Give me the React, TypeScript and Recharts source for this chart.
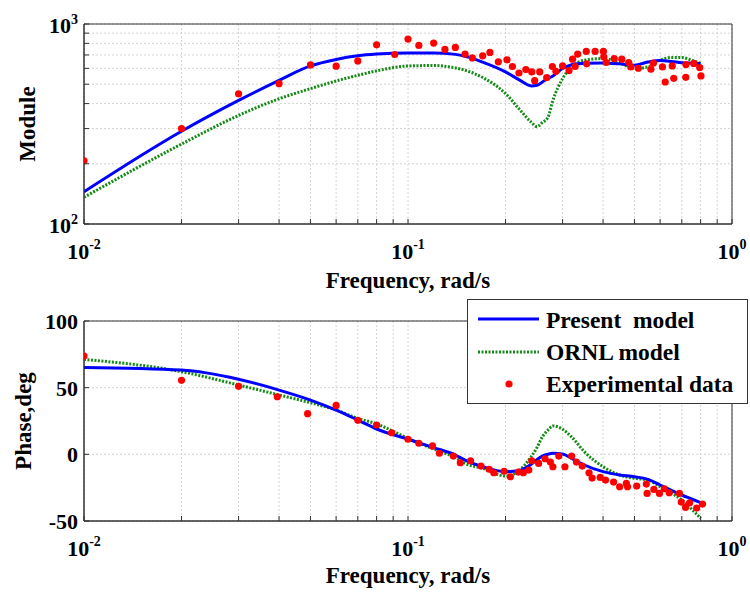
import React from 'react';
import { ComposedChart, Line, Scatter, XAxis, YAxis, CartesianGrid, ReferenceArea } from 'recharts';

// model curves sampled at these frequencies (rad/s)
const FREQ = [0.01, 0.02, 0.03, 0.04, 0.05, 0.06, 0.07, 0.08, 0.1, 0.12, 0.14, 0.15, 0.17, 0.2, 0.22, 0.24, 0.25, 0.26, 0.27, 0.28, 0.3, 0.32, 0.35, 0.4, 0.45, 0.5, 0.55, 0.6, 0.65, 0.7, 0.75, 0.8];
const PRESENT_MOD = [145, 291, 415, 523, 617, 665, 693, 707, 717, 717, 705, 690, 645, 576, 527, 490, 494, 513, 533, 550, 599, 625, 637, 639, 632, 622, 645, 657, 650, 640, 637, 635];
const ORNL_MOD = [136, 251, 349, 423, 475, 519, 554, 583, 617, 620, 603, 587, 540, 449, 377, 323, 307, 322, 340, 415, 533, 610, 659, 672, 639, 599, 610, 659, 680, 680, 659, 635];
const PRESENT_PHASE = [65.2, 63.2, 56.3, 48.2, 40.7, 33.2, 25.7, 19.0, 11.3, 5.0, -0.5, -4.3, -9.3, -13, -12.3, -7.5, -4, -1.3, 0, 0.8, 0.3, -3, -8, -13, -15.5, -16.8, -18.8, -23, -27, -30.5, -33.5, -36.3];
const ORNL_PHASE = [71.2, 62, 52, 44.5, 38.7, 33.2, 27, 22.8, 12, 4, -2.5, -6.8, -10.5, -16.3, -12.3, -1.8, 5, 13.2, 18, 21.3, 18.8, 13, 2, -9.3, -15.5, -18, -19.3, -24.3, -29, -34.3, -41, -48];

// experimental points
const EXP_MOD_F = [0.01, 0.02, 0.03, 0.04, 0.05, 0.06, 0.07, 0.08, 0.091, 0.1, 0.108, 0.12, 0.13, 0.14, 0.15, 0.158, 0.17, 0.179, 0.19, 0.202, 0.21, 0.22, 0.231, 0.241, 0.246, 0.255, 0.268, 0.279, 0.286, 0.3, 0.314, 0.322, 0.328, 0.334, 0.355, 0.356, 0.378, 0.401, 0.402, 0.409, 0.433, 0.457, 0.48, 0.487, 0.514, 0.562, 0.572, 0.61, 0.622, 0.654, 0.661, 0.72, 0.721, 0.762, 0.795, 0.802];
const EXP_MOD = [207, 300, 448, 503, 624, 615, 654, 787, 704, 841, 781, 803, 746, 764, 707, 677, 693, 721, 647, 662, 613, 569, 592, 576, 521, 576, 540, 613, 580, 617, 585, 667, 613, 707, 729, 632, 729, 729, 685, 642, 672, 667, 642, 610, 601, 594, 637, 610, 513, 617, 535, 541, 627, 635, 606, 550];
const EXP_PHASE_F = [0.01, 0.02, 0.03, 0.0395, 0.049, 0.06, 0.07, 0.08, 0.089, 0.1, 0.108, 0.119, 0.125, 0.138, 0.145, 0.156, 0.168, 0.178, 0.184, 0.198, 0.207, 0.219, 0.227, 0.236, 0.241, 0.253, 0.265, 0.275, 0.28, 0.292, 0.305, 0.32, 0.331, 0.345, 0.362, 0.37, 0.392, 0.407, 0.431, 0.45, 0.472, 0.476, 0.508, 0.544, 0.547, 0.574, 0.597, 0.618, 0.64, 0.688, 0.697, 0.719, 0.74, 0.778, 0.811];
const EXP_PHASE = [73.7, 55.5, 51, 43.2, 30.5, 36.7, 25.5, 22, 16.2, 11.3, 8.3, 6.3, 0.8, -1.3, -6.3, -4.8, -8.8, -11.2, -13.8, -12.7, -16.8, -13.3, -13.8, -11.8, -4.8, -6.8, -3.3, -5.8, -9.3, -1.3, -9.3, -1.3, -5.8, -8.8, -13.8, -17.8, -17.3, -19.3, -20.8, -24.3, -21.8, -24.3, -23.8, -22.3, -29.3, -26.3, -29.3, -25.8, -28.8, -29.3, -35.8, -39.8, -36.3, -40.3, -37.3];

const X_TICKS = [0.01, 0.02, 0.03, 0.04, 0.05, 0.06, 0.07, 0.08, 0.09, 0.1, 0.2, 0.3, 0.4, 0.5, 0.6, 0.7, 0.8, 0.9, 1];
const MOD_TICKS = [100, 200, 300, 400, 500, 600, 700, 800, 900, 1000];
const PHASE_TICKS = [-50, 0, 50, 100];

const FONT = "'Liberation Serif', 'Times New Roman', serif";
const AXIS = '#333333';

const zip = (xs: number[], ys: number[]) => xs.map((f, i) => ({ f, v: ys[i] }));
const presentMod = zip(FREQ, PRESENT_MOD);
const ornlMod = zip(FREQ, ORNL_MOD);
const presentPhase = zip(FREQ, PRESENT_PHASE);
const ornlPhase = zip(FREQ, ORNL_PHASE);
const expMod = zip(EXP_MOD_F, EXP_MOD);
const expPhase = zip(EXP_PHASE_F, EXP_PHASE);

const decadeOf = (v: number) => {
  const e = Math.round(Math.log10(v));
  return Math.abs(v / Math.pow(10, e) - 1) < 1e-6 ? e : null;
};

const XTick = (props: any) => {
  const { x, y, payload } = props;
  const e = decadeOf(payload.value);
  return (
    <g>
      <line x1={x} x2={x} y1={y} y2={y - 5} stroke={AXIS} />
      {e !== null && (
        <text x={x} y={y + 35} textAnchor="middle" fontFamily={FONT} fontWeight="bold" fontSize={22} fill="#000">
          10<tspan dy={-10} fontSize={14}>{e}</tspan>
        </text>
      )}
    </g>
  );
};

const TopTick = (props: any) => {
  const { x, y } = props;
  return <line x1={x} x2={x} y1={y} y2={y + 5} stroke={AXIS} />;
};

const RightTick = (props: any) => {
  const { x, y } = props;
  return <line x1={x} x2={x - 5} y1={y} y2={y} stroke={AXIS} />;
};

const ModTick = (props: any) => {
  const { x, y, payload } = props;
  const e = decadeOf(payload.value);
  return (
    <g>
      <line x1={x} x2={x + 5} y1={y} y2={y} stroke={AXIS} />
      {e !== null && (
        <text x={x - 6} y={y + 9} textAnchor="end" fontFamily={FONT} fontWeight="bold" fontSize={22} fill="#000">
          10<tspan dy={-9} fontSize={14}>{e}</tspan>
        </text>
      )}
    </g>
  );
};

const PhaseTick = (props: any) => {
  const { x, y, payload } = props;
  return (
    <g>
      <line x1={x} x2={x + 5} y1={y} y2={y} stroke={AXIS} />
      <text x={x - 6} y={y + 8} textAnchor="end" fontFamily={FONT} fontWeight="bold" fontSize={22} fill="#000">
        {payload.value}
      </text>
    </g>
  );
};

const xLabel = (dy: number) => (p: any) => {
  const vb = p.viewBox;
  return (
    <text x={vb.x + vb.width / 2} y={vb.y + dy} textAnchor="middle" fontFamily={FONT} fontWeight="bold" fontSize={23} fill="#000">
      Frequency, rad/s
    </text>
  );
};

const yLabel = (text: string, cx: number) => (p: any) => {
  const vb = p.viewBox;
  const cy = vb.y + vb.height / 2;
  return (
    <text x={cx} y={cy} transform={`rotate(-90 ${cx} ${cy})`} textAnchor="middle" dominantBaseline="central" fontFamily={FONT} fontWeight="bold" fontSize={23} fill="#000">
      {text}
    </text>
  );
};

const dot = (props: any) => <circle cx={props.cx} cy={props.cy} r={3.6} fill="#ff0000" />;

export default function App() {
  return (
    <div style={{ position: 'relative', width: 750, height: 592, background: '#fff' }}>
      <style>{'body{margin:0}'}</style>

      {/* Module */}
      <div style={{ position: 'absolute', left: 0, top: 0 }}>
        <ComposedChart width={750} height={296} margin={{ top: 24, right: 18, bottom: 0, left: 0 }}>
          <CartesianGrid stroke="#d4d4d4" strokeDasharray="2 2" />
          <XAxis dataKey="f" type="number" scale="log" domain={[0.01, 1]} allowDataOverflow ticks={X_TICKS} interval={0}
            height={72} tickSize={0} tickMargin={0} tickLine={false} axisLine={{ stroke: AXIS }} tick={<XTick />}
            label={{ content: xLabel(64) }} />
          <XAxis xAxisId="top" orientation="top" dataKey="f" type="number" scale="log" domain={[0.01, 1]} allowDataOverflow
            ticks={X_TICKS} interval={0} height={0} tickSize={0} tickMargin={0} tickLine={false} axisLine={{ stroke: AXIS }} tick={<TopTick />} />
          <YAxis type="number" scale="log" domain={[100, 1000]} allowDataOverflow ticks={MOD_TICKS} interval={0}
            width={84} tickSize={0} tickMargin={0} tickLine={false} axisLine={{ stroke: AXIS }} tick={<ModTick />}
            label={{ content: yLabel('Module', 27) }} />
          <YAxis yAxisId="right" orientation="right" type="number" scale="log" domain={[100, 1000]} allowDataOverflow
            ticks={MOD_TICKS} interval={0} width={0} tickSize={0} tickMargin={0} tickLine={false} axisLine={{ stroke: AXIS }} tick={<RightTick />} />
          <Line data={ornlMod} dataKey="v" type="monotone" stroke="#138a13" strokeWidth={3} strokeDasharray="2 1.5" dot={false} isAnimationActive={false} />
          <Line data={presentMod} dataKey="v" type="monotone" stroke="#0000ff" strokeWidth={3} dot={false} isAnimationActive={false} />
          <Scatter data={expMod} dataKey="v" shape={dot} isAnimationActive={false} />
          <ReferenceArea x1={0.01} x2={1} y1={100} y2={1000} fill="none" stroke={AXIS} ifOverflow="visible" />
        </ComposedChart>
      </div>

      {/* Phase */}
      <div style={{ position: 'absolute', left: 0, top: 296 }}>
        <ComposedChart width={750} height={296} margin={{ top: 25, right: 18, bottom: 0, left: 0 }}>
          <CartesianGrid stroke="#d4d4d4" strokeDasharray="2 2" />
          <XAxis dataKey="f" type="number" scale="log" domain={[0.01, 1]} allowDataOverflow ticks={X_TICKS} interval={0}
            height={71} tickSize={0} tickMargin={0} tickLine={false} axisLine={{ stroke: AXIS }} tick={<XTick />}
            label={{ content: xLabel(62) }} />
          <XAxis xAxisId="top" orientation="top" dataKey="f" type="number" scale="log" domain={[0.01, 1]} allowDataOverflow
            ticks={X_TICKS} interval={0} height={0} tickSize={0} tickMargin={0} tickLine={false} axisLine={{ stroke: AXIS }} tick={<TopTick />} />
          <YAxis type="number" domain={[-50, 100]} allowDataOverflow ticks={PHASE_TICKS} interval={0}
            width={84} tickSize={0} tickMargin={0} tickLine={false} axisLine={{ stroke: AXIS }} tick={<PhaseTick />}
            label={{ content: yLabel('Phase,deg', 23) }} />
          <YAxis yAxisId="right" orientation="right" type="number" domain={[-50, 100]} allowDataOverflow
            ticks={PHASE_TICKS} interval={0} width={0} tickSize={0} tickMargin={0} tickLine={false} axisLine={{ stroke: AXIS }} tick={<RightTick />} />
          <Line data={ornlPhase} dataKey="v" type="monotone" stroke="#138a13" strokeWidth={3} strokeDasharray="2 1.5" dot={false} isAnimationActive={false} />
          <Line data={presentPhase} dataKey="v" type="monotone" stroke="#0000ff" strokeWidth={3} dot={false} isAnimationActive={false} />
          <Scatter data={expPhase} dataKey="v" shape={dot} isAnimationActive={false} />
          <ReferenceArea x1={0.01} x2={1} y1={-50} y2={100} fill="none" stroke={AXIS} ifOverflow="visible" />
        </ComposedChart>
      </div>

      {/* Legend */}
      <svg width={281} height={105} style={{ position: 'absolute', left: 467, top: 299 }}>
        <rect x={0.5} y={0.5} width={280} height={104} fill="#fff" stroke={AXIS} />
        <line x1={11} x2={72} y1={20} y2={20} stroke="#0000ff" strokeWidth={3} />
        <line x1={11} x2={72} y1={53} y2={53} stroke="#138a13" strokeWidth={3} strokeDasharray="2 1.5" />
        <circle cx={42} cy={85} r={3.6} fill="#ff0000" />
        <g fontFamily={FONT} fontWeight="bold" fontSize={23.5} fill="#000">
          <text x={79} y={29} style={{ whiteSpace: 'pre' }}>Present  model</text>
          <text x={79} y={61}>ORNL model</text>
          <text x={79} y={93}>Experimental data</text>
        </g>
      </svg>
    </div>
  );
}
